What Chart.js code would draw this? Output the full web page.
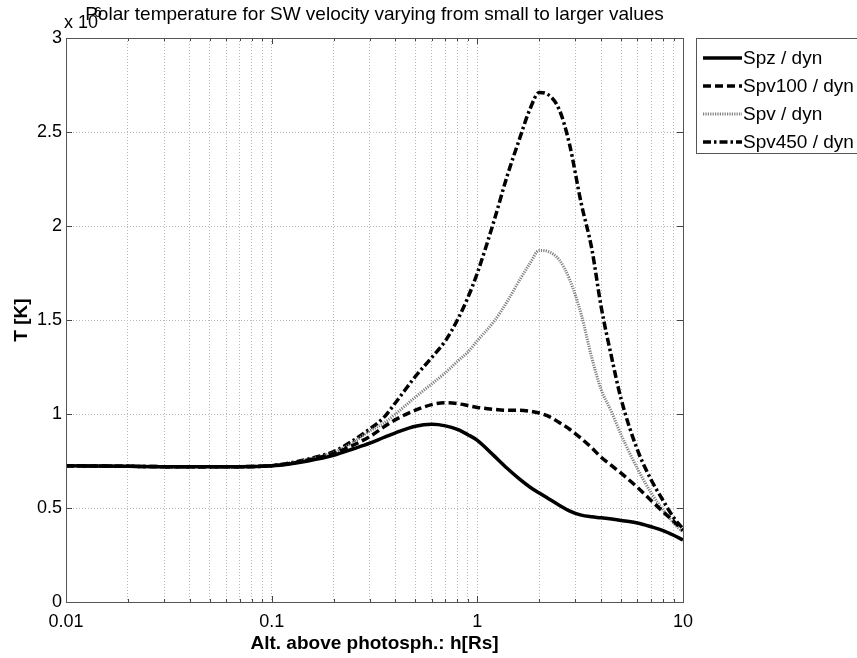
<!DOCTYPE html>
<html><head><meta charset="utf-8">
<script src="https://cdn.jsdelivr.net/npm/chart.js@4.4.1/dist/chart.umd.min.js"></script>
<style>html,body{margin:0;padding:0;background:#fff;overflow:hidden}#wrap{width:857px;height:658px;position:relative}</style>
</head><body><div id="wrap"><canvas id="c" width="857" height="658"></canvas></div>
<script>
// Altitude above photosphere h [Rs]
const altitudes = [0.01,0.02,0.03,0.05,0.07,0.1,0.12,0.15,0.2,0.25,0.3,0.35,0.4,0.5,0.6,0.7,0.8,0.9,1.0,1.2,1.4,1.6,1.8,2.0,2.2,2.5,2.8,3.2,3.6,4,4.5,5,6,7,8,9,10];
// Temperatures in units of 10^6 K
const spzDyn = [0.725,0.722,0.72,0.72,0.72,0.725,0.733,0.75,0.78,0.815,0.845,0.875,0.90,0.935,0.945,0.937,0.918,0.89,0.86,0.78,0.71,0.655,0.612,0.58,0.552,0.515,0.485,0.462,0.453,0.448,0.441,0.434,0.42,0.40,0.38,0.355,0.33];
const spv100Dyn = [0.725,0.722,0.72,0.72,0.72,0.725,0.735,0.755,0.79,0.835,0.88,0.93,0.97,1.02,1.05,1.06,1.055,1.045,1.035,1.025,1.02,1.02,1.015,1.005,0.99,0.955,0.92,0.87,0.82,0.77,0.725,0.685,0.61,0.54,0.48,0.43,0.38];
const spvDyn = [0.725,0.722,0.72,0.72,0.72,0.725,0.737,0.757,0.795,0.85,0.91,0.95,1.0,1.09,1.16,1.22,1.28,1.33,1.39,1.49,1.60,1.71,1.80,1.87,1.865,1.82,1.72,1.53,1.30,1.13,1.01,0.89,0.71,0.58,0.49,0.42,0.37];
const spv450Dyn = [0.725,0.722,0.72,0.72,0.72,0.725,0.738,0.76,0.80,0.86,0.92,0.98,1.06,1.20,1.30,1.39,1.50,1.62,1.75,2.02,2.27,2.46,2.62,2.71,2.70,2.62,2.44,2.12,1.88,1.57,1.30,1.08,0.81,0.65,0.54,0.45,0.39];
const seriesNames = ['Spz / dyn','Spv100 / dyn','Spv / dyn','Spv450 / dyn'];
const xMajorTicks = [0.01,0.1,1,10];
const xTickLabels = ['0.01','0.1','1','10'];
const xMinorMultipliers = [2,3,4,5,6,7,8,9];
const yTicks = [0,0.5,1,1.5,2,2.5,3];
const yTickLabels = ['0','0.5','1','1.5','2','2.5','3'];
const titleText = 'Polar temperature for SW velocity varying from small to larger values';
const xTitle = 'Alt. above photosph.: h[Rs]';
const yTitle = 'T [K]';

const FONT = "'Liberation Sans', Arial, Helvetica, sans-serif";
Chart.defaults.font.family = FONT;
Chart.defaults.color = '#000';

const toPts = arr => arr.map((v,i)=>({x:altitudes[i], y:v}));
const styles = [
  {color:'#000', width:3.5, dash:[]},
  {color:'#000', width:3.5, dash:[8,4]},
  {color:'#808080', width:3, dash:[1.2,1.2]},
  {color:'#000', width:3.5, dash:[8,3,2.5,3]}
];
const values = [spzDyn, spv100Dyn, spvDyn, spv450Dyn];
const datasets = values.map((arr,i)=>({
  label: seriesNames[i],
  data: toPts(arr),
  borderColor: styles[i].color,
  borderWidth: styles[i].width,
  borderDash: styles[i].dash,
  borderCapStyle: 'butt',
  pointRadius: 0,
  fill: false,
  cubicInterpolationMode: 'monotone'
}));

const allXTicks = [];
xMajorTicks.forEach((m,k)=>{
  allXTicks.push(m);
  if (k < xMajorTicks.length-1) xMinorMultipliers.forEach(f=>allXTicks.push(+(m*f).toPrecision(3)));
});

const deco = {
  id:'deco',
  afterDraw(chart){
    const ctx = chart.ctx, a = chart.chartArea;
    const xs = chart.scales.x, ys = chart.scales.y;
    ctx.save();
    // inward ticks
    ctx.strokeStyle = '#444'; ctx.lineWidth = 1; ctx.setLineDash([]);
    ctx.beginPath();
    yTicks.forEach(v=>{
      const py = Math.round(ys.getPixelForValue(v))+0.5;
      ctx.moveTo(a.left, py); ctx.lineTo(a.left+6, py);
      ctx.moveTo(a.right, py); ctx.lineTo(a.right-6, py);
    });
    allXTicks.forEach(v=>{
      const px = Math.round(xs.getPixelForValue(v))+0.5;
      const L = xMajorTicks.includes(v) ? 6 : 3;
      ctx.moveTo(px, a.bottom); ctx.lineTo(px, a.bottom-L);
      ctx.moveTo(px, a.top); ctx.lineTo(px, a.top+L);
    });
    ctx.stroke();
    // box
    ctx.strokeStyle = '#555';
    ctx.strokeRect(Math.round(a.left)+0.5, Math.round(a.top)+0.5, Math.round(a.right-a.left), Math.round(a.bottom-a.top));
    // exponent base
    ctx.fillStyle = '#000';
    ctx.textBaseline = 'alphabetic'; ctx.textAlign = 'left';
    ctx.font = '18px ' + FONT;
    ctx.fillText('x 10', 64, 28);
    // title
    ctx.font = '19px ' + FONT;
    ctx.textAlign = 'center';
    ctx.fillText(titleText, (a.left+a.right)/2, 20);
    // exponent superscript (overlaps title as in the original)
    ctx.textAlign = 'left';
    ctx.font = '14px ' + FONT;
    ctx.fillText('6', 94, 17);
    // legend
    const lx = 696, ly = 38, lw = 170, lh = 115;
    ctx.fillStyle = '#fff';
    ctx.fillRect(lx, ly, lw, lh);
    ctx.strokeStyle = '#555'; ctx.lineWidth = 1;
    ctx.strokeRect(lx+0.5, ly+0.5, lw, lh);
    ctx.font = '19px ' + FONT;
    ctx.textAlign = 'left'; ctx.textBaseline = 'middle';
    chart.data.datasets.forEach((ds,i)=>{
      const y = ly + 20 + i*28;
      ctx.strokeStyle = ds.borderColor; ctx.lineWidth = ds.borderWidth;
      ctx.setLineDash(ds.borderDash); ctx.lineCap = 'butt';
      ctx.beginPath(); ctx.moveTo(703, y); ctx.lineTo(742, y); ctx.stroke();
      ctx.setLineDash([]);
      ctx.fillStyle = '#000';
      ctx.fillText(ds.label, 743, y+1);
    });
    ctx.restore();
  }
};

new Chart(document.getElementById('c'), {
  type:'line',
  data:{datasets},
  options:{
    responsive:false, animation:false, devicePixelRatio:1,
    layout:{padding:{top:38, right:174, bottom:0, left:0}},
    plugins:{legend:{display:false}, tooltip:{enabled:false}, title:{display:false}},
    scales:{
      x:{
        type:'logarithmic', min:0.01, max:10,
        afterBuildTicks: s => { s.ticks = allXTicks.map(v=>({value:v})); },
        afterFit: s => { s.height = 56; },
        ticks:{autoSkip:false, maxRotation:0, padding:9, font:{size:18},
          callback:(v)=>{ const k = xMajorTicks.indexOf(v); return k>=0 ? xTickLabels[k] : ''; }},
        grid:{color:'#b8b8b8', lineWidth:1, drawTicks:false},
        border:{display:true, color:'#555', dash:[1,2]},
        title:{display:true, text:xTitle, font:{size:19, weight:'bold'}, padding:{top:0,bottom:3}}
      },
      y:{
        type:'linear', min:0, max:3,
        afterBuildTicks: s => { s.ticks = yTicks.map(v=>({value:v})); },
        afterFit: s => { s.width = 66; },
        ticks:{padding:4, font:{size:18},
          callback:(v)=>{ const k = yTicks.indexOf(v); return k>=0 ? yTickLabels[k] : ''; }},
        grid:{color:'#b8b8b8', lineWidth:1, drawTicks:false},
        border:{display:true, color:'#555', dash:[1,2]},
        title:{display:true, text:yTitle, font:{size:19, weight:'bold'}, padding:{top:10,bottom:0}}
      }
    }
  },
  plugins:[deco]
});
</script></body></html>
